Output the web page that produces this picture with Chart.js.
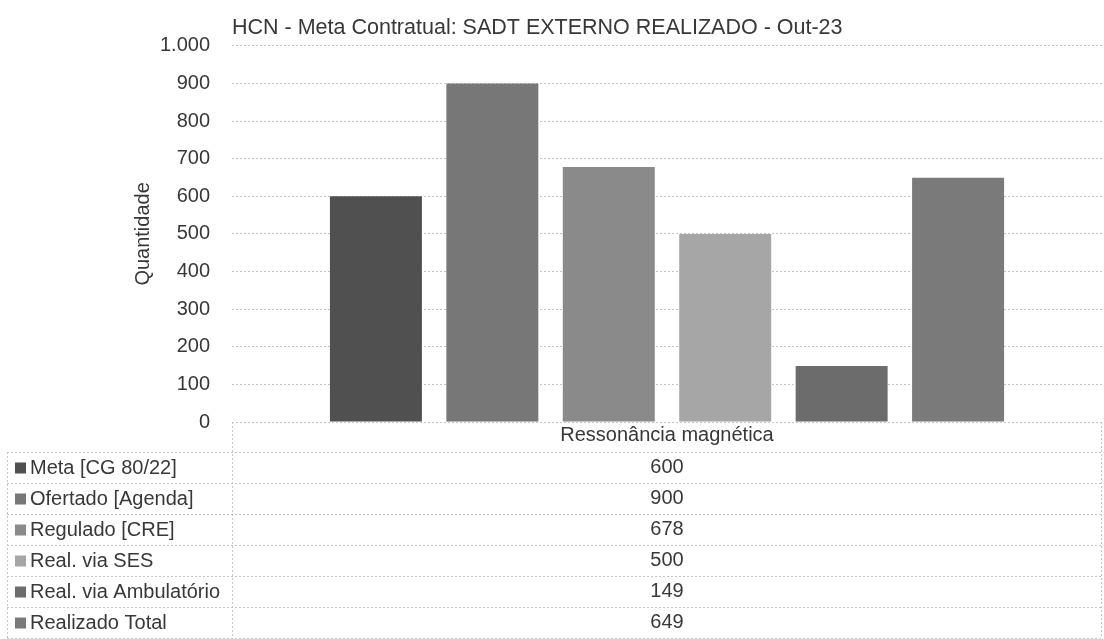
<!DOCTYPE html>
<html>
<head>
<meta charset="utf-8">
<script src="https://cdn.jsdelivr.net/npm/chart.js@4.4.1/dist/chart.umd.min.js"></script>
<style>
  html, body { margin: 0; padding: 0; background: #ffffff; }
  #wrap { position: absolute; left: 0; top: 0; width: 1104px; height: 639px; }
</style>
</head>
<body>
<div id="wrap"><canvas id="c" width="1104" height="639"></canvas></div>
<script>
// ---- data ----
const categories = ['Ressonância magnética'];
const seriesNames = ['Meta [CG 80/22]', 'Ofertado [Agenda]', 'Regulado [CRE]', 'Real. via SES', 'Real. via Ambulatório', 'Realizado Total'];
const metaCG = [600];
const ofertadoAgenda = [900];
const reguladoCRE = [678];
const realViaSES = [500];
const realViaAmbulatorio = [149];
const realizadoTotal = [649];
const yTickValues = [0, 100, 200, 300, 400, 500, 600, 700, 800, 900, 1000];
const chartTitle = 'HCN - Meta Contratual: SADT EXTERNO REALIZADO - Out-23';
const yAxisTitle = 'Quantidade';

// ---- styles ----
const seriesColors = ['#505050', '#777777', '#8a8a8a', '#a6a6a6', '#6c6c6c', '#7a7a7a'];
const FONT = '"Liberation Sans", Arial, sans-serif';
const TEXT = '#383838';
const GRID = '#c6c6c6';

const seriesData = [metaCG, ofertadoAgenda, reguladoCRE, realViaSES, realViaAmbulatorio, realizadoTotal];
const datasets = seriesNames.map((name, i) => ({
  label: name,
  data: seriesData[i],
  backgroundColor: seriesColors[i],
  borderWidth: 0,
  categoryPercentage: 0.803,
  barPercentage: 0.79
}));

function fmt(v) {
  return String(v).replace(/\B(?=(\d{3})+(?!\d))/g, '.');
}

const tablePlugin = {
  id: 'dataTable',
  afterDraw(chart) {
    const ctx = chart.ctx;
    const area = chart.chartArea;
    const xs = chart.scales.x;
    const left = 7;
    const rowH = 31;
    const headTop = area.bottom;
    const headBottom = headTop + 30;
    const nRows = seriesNames.length;
    const tableBottom = headBottom + nRows * rowH;
    ctx.save();
    ctx.strokeStyle = GRID;
    ctx.lineWidth = 1;
    ctx.setLineDash([2, 2]);
    ctx.beginPath();
    ctx.moveTo(area.left, headTop + 0.5); ctx.lineTo(area.right, headTop + 0.5);
    ctx.moveTo(area.left + 0.5, headTop); ctx.lineTo(area.left + 0.5, tableBottom);
    ctx.moveTo(left + 0.5, headBottom); ctx.lineTo(left + 0.5, tableBottom);
    ctx.moveTo(area.right - 0.5, headTop); ctx.lineTo(area.right - 0.5, tableBottom);
    for (let r = 0; r <= nRows; r++) {
      const y = headBottom + r * rowH + 0.5;
      ctx.moveTo(left, y); ctx.lineTo(area.right, y);
    }
    ctx.stroke();
    ctx.setLineDash([]);

    ctx.fillStyle = TEXT;
    ctx.font = '20px ' + FONT;
    ctx.textBaseline = 'middle';
    ctx.textAlign = 'center';
    categories.forEach((cat, ci) => {
      const cx = xs.getPixelForValue(ci);
      ctx.fillText(cat, cx, (headTop + headBottom) / 2 - 2);
      seriesData.forEach((arr, r) => {
        const cy = headBottom + r * rowH + rowH / 2;
        ctx.fillText(String(arr[ci]), cx, cy);
      });
    });
    ctx.textAlign = 'left';
    seriesNames.forEach((name, r) => {
      const cy = headBottom + r * rowH + rowH / 2;
      ctx.fillStyle = seriesColors[r];
      ctx.fillRect(15, cy - 5, 11, 11);
      ctx.fillStyle = TEXT;
      ctx.fillText(name, 30, cy + 1);
    });
    ctx.restore();
  }
};

new Chart(document.getElementById('c'), {
  type: 'bar',
  data: { labels: categories, datasets },
  options: {
    responsive: false,
    animation: false,
    devicePixelRatio: 1,
    layout: { padding: { left: 0, right: 2, top: 0, bottom: 217 } },
    plugins: {
      legend: { display: false },
      tooltip: { enabled: false },
      title: {
        display: true,
        text: chartTitle,
        align: 'start',
        fullSize: false,
        color: TEXT,
        font: { family: FONT, size: 21.5, weight: 'normal' },
        padding: { top: 15, bottom: 5 }
      }
    },
    scales: {
      x: {
        display: false,
        offset: true
      },
      y: {
        min: 0,
        max: 1000,
        afterFit(scale) { scale.width = 232; },
        afterBuildTicks(scale) { scale.ticks = yTickValues.map(v => ({ value: v })); },
        border: { display: false, dash: [2, 2] },
        grid: {
          color: GRID,
          lineWidth: 1,
          drawTicks: false
        },
        ticks: {
          color: TEXT,
          padding: 22,
          font: { family: FONT, size: 20 },
          callback: (v) => fmt(v)
        },
        title: {
          display: true,
          text: yAxisTitle,
          color: TEXT,
          font: { family: FONT, size: 20 },
          padding: { top: 131, bottom: 0 }
        }
      }
    }
  },
  plugins: [tablePlugin]
});
</script>
</body>
</html>
